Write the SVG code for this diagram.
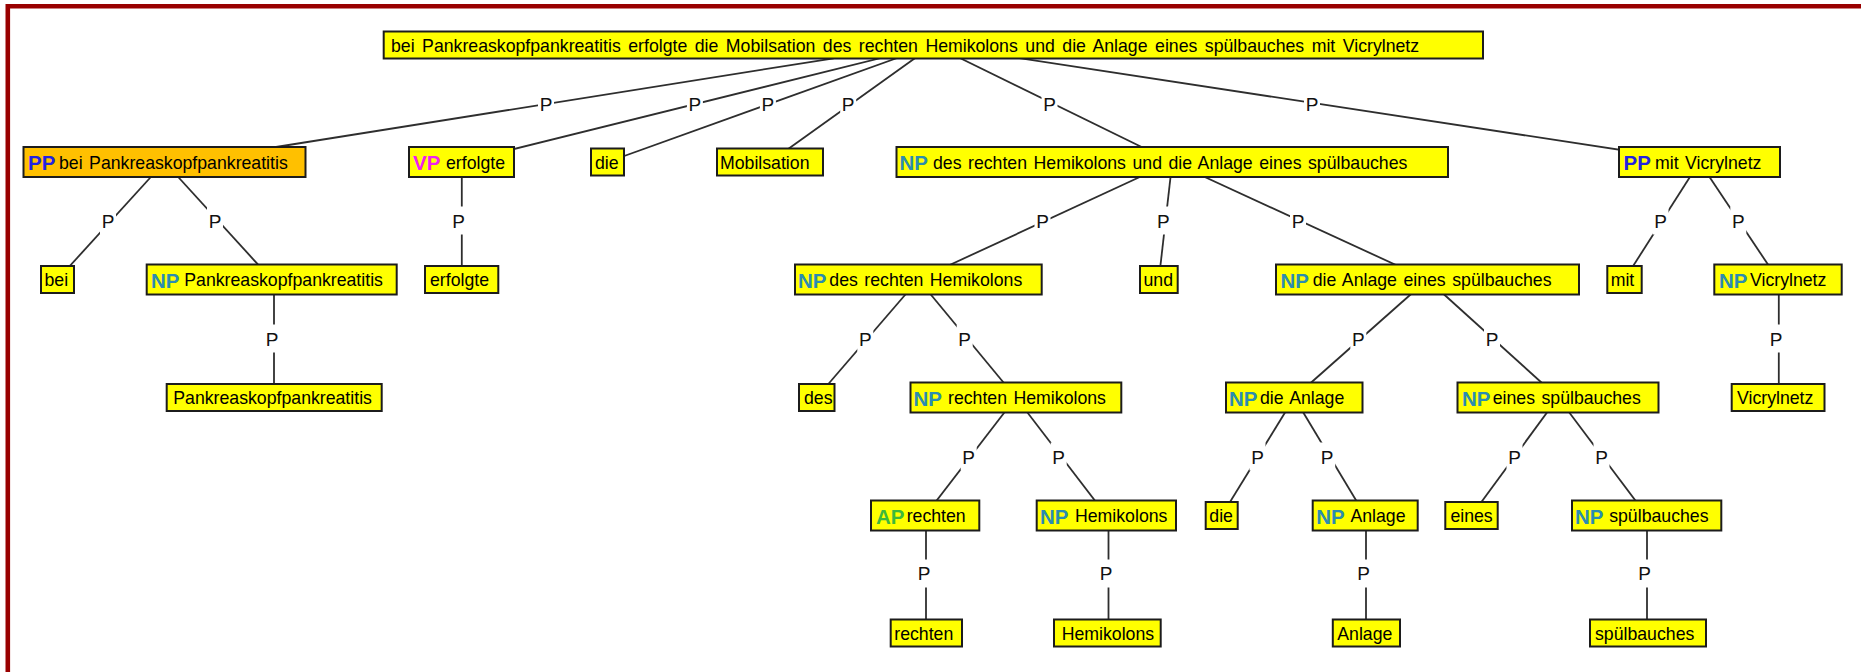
<svg xmlns="http://www.w3.org/2000/svg" width="1861" height="672" viewBox="0 0 1861 672">
<style>
.bg{fill:#ffffff}
.frame{fill:none;stroke:#990000;stroke-width:4.6}
.box{fill:#ffff00;stroke:#1c1c1c;stroke-width:2}
.sel{fill:#ffc000}
.t{font-family:"Liberation Sans",Arial,sans-serif;font-size:17.7px;fill:#000;word-spacing:1.6px}
.rt{word-spacing:2.6px}
.lb{font-family:"Liberation Sans",Arial,sans-serif;font-size:20.5px;font-weight:bold}
.np{fill:#2b8cb0}
.pp{fill:#2222e0}
.vp{fill:#f020f0}
.ap{fill:#3db83d}
.edge{stroke:#2e2e2e;stroke-width:1.8;fill:none}
.pbg{fill:#ffffff}
.pl{font-family:"Liberation Sans",Arial,sans-serif;font-size:19px;fill:#111;text-anchor:middle}
</style>
<rect class="bg" x="0" y="0" width="1861" height="672"/>
<path class="frame" d="M7.8 672 V6.3 H1861"/>

<g id="connectors">
<line class="edge" x1="833.7" y1="58.3" x2="276" y2="147"/>
<line class="edge" x1="933.35" y1="45" x2="461.5" y2="162"/>
<line class="edge" x1="933.35" y1="45" x2="607.5" y2="162"/>
<line class="edge" x1="933.35" y1="45" x2="770" y2="162"/>
<line class="edge" x1="933.35" y1="45" x2="1172.25" y2="162"/>
<line class="edge" x1="933.35" y1="45" x2="1699.5" y2="162"/>
<line class="edge" x1="164.5" y1="162" x2="57.5" y2="279.5"/>
<line class="edge" x1="164.5" y1="162" x2="271.7" y2="279.5"/>
<line class="edge" x1="461.8" y1="162" x2="461.8" y2="279.5"/>
<line class="edge" x1="1172.25" y1="162" x2="918.35" y2="279.5"/>
<line class="edge" x1="1172.25" y1="162" x2="1158.85" y2="279.5"/>
<line class="edge" x1="1172.25" y1="162" x2="1427.5" y2="279.5"/>
<line class="edge" x1="1699.5" y1="162" x2="1624.5" y2="279.5"/>
<line class="edge" x1="1699.5" y1="162" x2="1778" y2="279.5"/>
<line class="edge" x1="274" y1="279.5" x2="274" y2="397.5"/>
<line class="edge" x1="918.35" y1="279.5" x2="816.7" y2="397.5"/>
<line class="edge" x1="918.35" y1="279.5" x2="1015.9" y2="397.5"/>
<line class="edge" x1="1427.5" y1="279.5" x2="1294.25" y2="397.5"/>
<line class="edge" x1="1427.5" y1="279.5" x2="1558" y2="397.5"/>
<line class="edge" x1="1778.8" y1="279.5" x2="1778.8" y2="397.5"/>
<line class="edge" x1="1015.9" y1="397.5" x2="925.15" y2="515.5"/>
<line class="edge" x1="1015.9" y1="397.5" x2="1106.35" y2="515.5"/>
<line class="edge" x1="1294.25" y1="397.5" x2="1221.7" y2="515.5"/>
<line class="edge" x1="1294.25" y1="397.5" x2="1365.2" y2="515.5"/>
<line class="edge" x1="1558" y1="397.5" x2="1471.5" y2="515.5"/>
<line class="edge" x1="1558" y1="397.5" x2="1646.65" y2="515.5"/>
<line class="edge" x1="926" y1="515.5" x2="926" y2="633"/>
<line class="edge" x1="1108.5" y1="515.5" x2="1108.5" y2="633"/>
<line class="edge" x1="1366" y1="515.5" x2="1366" y2="633"/>
<line class="edge" x1="1647" y1="515.5" x2="1647" y2="633"/>

<rect class="pbg" x="538" y="90.5" width="16" height="27"/><text class="pl" x="546" y="110.5">P</text>
<rect class="pbg" x="686.9" y="90.5" width="16" height="27"/><text class="pl" x="694.9" y="110.5">P</text>
<rect class="pbg" x="759.9" y="90.5" width="16" height="27"/><text class="pl" x="767.9" y="110.5">P</text>
<rect class="pbg" x="840.2" y="90.5" width="16" height="27"/><text class="pl" x="848.2" y="110.5">P</text>
<rect class="pbg" x="1041.5" y="90.5" width="16" height="27"/><text class="pl" x="1049.5" y="110.5">P</text>
<rect class="pbg" x="1304" y="90.5" width="16" height="27"/><text class="pl" x="1312" y="110.5">P</text>

<rect class="pbg" x="100" y="206.5" width="16" height="28"/><text class="pl" x="108" y="227.8">P</text>
<rect class="pbg" x="207" y="206.5" width="16" height="28"/><text class="pl" x="215" y="227.8">P</text>
<rect class="pbg" x="450.5" y="206.5" width="16" height="28"/><text class="pl" x="458.5" y="227.8">P</text>
<rect class="pbg" x="1034.5" y="206.5" width="16" height="28"/><text class="pl" x="1042.5" y="227.8">P</text>
<rect class="pbg" x="1155.3" y="206.5" width="16" height="28"/><text class="pl" x="1163.3" y="227.8">P</text>
<rect class="pbg" x="1290" y="206.5" width="16" height="28"/><text class="pl" x="1298" y="227.8">P</text>
<rect class="pbg" x="1652.5" y="206.5" width="16" height="28"/><text class="pl" x="1660.5" y="227.8">P</text>
<rect class="pbg" x="1730.3" y="206.5" width="16" height="28"/><text class="pl" x="1738.3" y="227.8">P</text>

<rect class="pbg" x="264" y="324.5" width="16" height="28"/><text class="pl" x="272" y="345.5">P</text>
<rect class="pbg" x="857.3" y="324.5" width="16" height="28"/><text class="pl" x="865.3" y="345.5">P</text>
<rect class="pbg" x="956.7" y="324.5" width="16" height="28"/><text class="pl" x="964.7" y="345.5">P</text>
<rect class="pbg" x="1350.3" y="324.5" width="16" height="28"/><text class="pl" x="1358.3" y="345.5">P</text>
<rect class="pbg" x="1484" y="324.5" width="16" height="28"/><text class="pl" x="1492" y="345.5">P</text>
<rect class="pbg" x="1768" y="324.5" width="16" height="28"/><text class="pl" x="1776" y="345.5">P</text>

<rect class="pbg" x="960.7" y="442.5" width="16" height="28"/><text class="pl" x="968.7" y="463.5">P</text>
<rect class="pbg" x="1050.7" y="442.5" width="16" height="28"/><text class="pl" x="1058.7" y="463.5">P</text>
<rect class="pbg" x="1249.5" y="442.5" width="16" height="28"/><text class="pl" x="1257.5" y="463.5">P</text>
<rect class="pbg" x="1319.2" y="442.5" width="16" height="28"/><text class="pl" x="1327.2" y="463.5">P</text>
<rect class="pbg" x="1506.5" y="442.5" width="16" height="28"/><text class="pl" x="1514.5" y="463.5">P</text>
<rect class="pbg" x="1593.5" y="442.5" width="16" height="28"/><text class="pl" x="1601.5" y="463.5">P</text>

<rect class="pbg" x="916" y="559.5" width="16" height="28"/><text class="pl" x="924" y="580">P</text>
<rect class="pbg" x="1098" y="559.5" width="16" height="28"/><text class="pl" x="1106" y="580">P</text>
<rect class="pbg" x="1355.5" y="559.5" width="16" height="28"/><text class="pl" x="1363.5" y="580">P</text>
<rect class="pbg" x="1636.5" y="559.5" width="16" height="28"/><text class="pl" x="1644.5" y="580">P</text>
</g>

<g id="n-root"><rect class="box" x="383.7" y="31.5" width="1099.3" height="27"/><text class="t rt" x="391" y="51.8">bei Pankreaskopfpankreatitis erfolgte die Mobilsation des rechten Hemikolons und die Anlage eines spülbauches mit Vicrylnetz</text></g>

<g id="n-pp1"><rect class="box sel" x="23.5" y="147" width="282" height="30"/><text class="lb pp" x="28" y="170.3">PP</text><text class="t" x="59" y="168.8">bei Pankreaskopfpankreatitis</text></g>
<g id="n-vp"><rect class="box" x="409" y="147" width="105" height="30"/><text class="lb vp" x="413" y="170.3">VP</text><text class="t" x="446" y="168.8">erfolgte</text></g>
<g id="n-die1"><rect class="box" x="591" y="148.5" width="33" height="27"/><text class="t" x="595" y="168.8">die</text></g>
<g id="n-mob"><rect class="box" x="717" y="148.5" width="106" height="27"/><text class="t" x="720" y="168.8">Mobilsation</text></g>
<g id="n-np1"><rect class="box" x="896.5" y="147" width="551.5" height="30"/><text class="lb np" x="899.5" y="170.3">NP</text><text class="t" x="933" y="168.8">des rechten Hemikolons und die Anlage eines spülbauches</text></g>
<g id="n-pp2"><rect class="box" x="1619" y="147" width="161" height="30"/><text class="lb pp" x="1623.5" y="170.3">PP</text><text class="t" x="1655" y="168.8">mit Vicrylnetz</text></g>

<g id="n-bei"><rect class="box" x="41" y="266" width="33" height="27"/><text class="t" x="44.5" y="286.3">bei</text></g>
<g id="n-np2"><rect class="box" x="146.7" y="264.5" width="250" height="30"/><text class="lb np" x="151" y="287.8">NP</text><text class="t" x="184.3" y="286.3">Pankreaskopfpankreatitis</text></g>
<g id="n-erf"><rect class="box" x="425" y="266" width="73.3" height="27"/><text class="t" x="430" y="286.3">erfolgte</text></g>
<g id="n-np3"><rect class="box" x="795" y="264.5" width="246.7" height="30"/><text class="lb np" x="798" y="287.8">NP</text><text class="t" x="829.3" y="286.3">des rechten Hemikolons</text></g>
<g id="n-und"><rect class="box" x="1140" y="266" width="37.7" height="27"/><text class="t" x="1143.5" y="286.3">und</text></g>
<g id="n-np4"><rect class="box" x="1276" y="264.5" width="303" height="30"/><text class="lb np" x="1280.5" y="287.8">NP</text><text class="t" x="1312.7" y="286.3">die Anlage eines spülbauches</text></g>
<g id="n-mit"><rect class="box" x="1607.3" y="266" width="34.4" height="27"/><text class="t" x="1610.7" y="286.3">mit</text></g>
<g id="n-np5"><rect class="box" x="1714.3" y="264.5" width="127.4" height="30"/><text class="lb np" x="1719" y="287.8">NP</text><text class="t" x="1750" y="286.3">Vicrylnetz</text></g>

<g id="n-pank"><rect class="box" x="166.7" y="384" width="215" height="27"/><text class="t" x="173.3" y="404.3">Pankreaskopfpankreatitis</text></g>
<g id="n-des"><rect class="box" x="799" y="384" width="35.5" height="27"/><text class="t" x="804" y="404.3">des</text></g>
<g id="n-np6"><rect class="box" x="910.5" y="382.5" width="210.8" height="30"/><text class="lb np" x="913.5" y="405.8">NP</text><text class="t" x="948" y="404.3">rechten Hemikolons</text></g>
<g id="n-np7"><rect class="box" x="1226" y="382.5" width="136.5" height="30"/><text class="lb np" x="1229" y="405.8">NP</text><text class="t" x="1260" y="404.3">die Anlage</text></g>
<g id="n-np8"><rect class="box" x="1457.5" y="382.5" width="201" height="30"/><text class="lb np" x="1462" y="405.8">NP</text><text class="t" x="1492.7" y="404.3">eines spülbauches</text></g>
<g id="n-vic"><rect class="box" x="1731.7" y="384" width="92.8" height="27"/><text class="t" x="1737" y="404.3">Vicrylnetz</text></g>

<g id="n-ap"><rect class="box" x="871" y="500.5" width="108.3" height="30"/><text class="lb ap" x="876" y="523.8">AP</text><text class="t" x="906.7" y="522.3">rechten</text></g>
<g id="n-np9"><rect class="box" x="1036.7" y="500.5" width="139.3" height="30"/><text class="lb np" x="1040" y="523.8">NP</text><text class="t" x="1075" y="522.3">Hemikolons</text></g>
<g id="n-die2"><rect class="box" x="1205.7" y="502" width="32" height="27"/><text class="t" x="1209.3" y="522.3">die</text></g>
<g id="n-np10"><rect class="box" x="1312.7" y="500.5" width="105" height="30"/><text class="lb np" x="1316.2" y="523.8">NP</text><text class="t" x="1350.4" y="522.3">Anlage</text></g>
<g id="n-eines"><rect class="box" x="1445.3" y="502" width="52.4" height="27"/><text class="t" x="1450.4" y="522.3">eines</text></g>
<g id="n-np11"><rect class="box" x="1572" y="500.5" width="149.3" height="30"/><text class="lb np" x="1575" y="523.8">NP</text><text class="t" x="1609.2" y="522.3">spülbauches</text></g>

<g id="n-rechten"><rect class="box" x="890.7" y="619.5" width="71.3" height="27"/><text class="t" x="894.3" y="639.8">rechten</text></g>
<g id="n-hemi"><rect class="box" x="1054" y="619.5" width="106.7" height="27"/><text class="t" x="1061.7" y="639.8">Hemikolons</text></g>
<g id="n-anlage"><rect class="box" x="1332.8" y="619.5" width="67.2" height="27"/><text class="t" x="1337.3" y="639.8">Anlage</text></g>
<g id="n-spuel"><rect class="box" x="1590" y="619.5" width="116" height="27"/><text class="t" x="1595" y="639.8">spülbauches</text></g>
</svg>
